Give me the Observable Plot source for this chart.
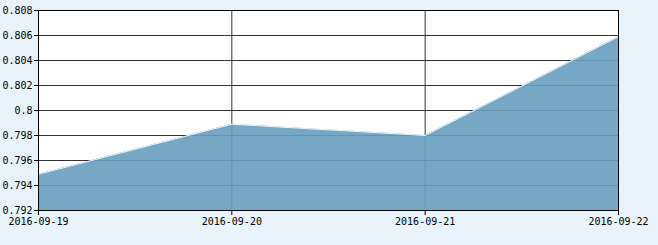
<!DOCTYPE html>
<html>
<head>
<meta charset="utf-8">
<script src="https://cdn.jsdelivr.net/npm/d3@7"></script>
<script src="https://cdn.jsdelivr.net/npm/@observablehq/plot@0.6"></script>
<style>
  html, body { margin: 0; padding: 0; background: #e8f3fb; }
  #chart svg { display: block; }
</style>
</head>
<body>
<div id="chart"></div>
<script>
const dates = ["2016-09-19", "2016-09-20", "2016-09-21", "2016-09-22"];
const values = [0.7949, 0.7989, 0.7980, 0.8059];
const yTicks = [0.792, 0.794, 0.796, 0.798, 0.800, 0.802, 0.804, 0.806, 0.808];

const parse = d3.utcParse("%Y-%m-%d");
const data = dates.map((d, i) => ({date: parse(d), value: values[i]}));
const xTicks = dates.map(parse);
const fmtDate = d3.utcFormat("%Y-%m-%d");

const chart = Plot.plot({
  width: 658,
  height: 245,
  marginLeft: 38,
  marginRight: 40,
  marginTop: 10,
  marginBottom: 35,
  style: {background: "#e8f3fb", fontFamily: "'DejaVu Sans Mono', monospace", fontSize: "10px", color: "#000"},
  x: {type: "utc", domain: [xTicks[0], xTicks[xTicks.length - 1]], label: null},
  y: {domain: [0.792, 0.808], label: null},
  marks: [
    Plot.frame({fill: "white", stroke: null}),
    Plot.ruleY(yTicks.slice(1, -1), {stroke: "#333", strokeWidth: 1}),
    Plot.ruleX(xTicks.slice(1, -1), {stroke: "#333", strokeWidth: 1}),
    Plot.areaY(data, {x: "date", y1: 0.792, y2: "value", fill: "rgb(103,159,191)", fillOpacity: 0.9}),
    Plot.lineY(data, {x: "date", y: "value", stroke: "#eef5f9", strokeWidth: 1}),
    Plot.frame({stroke: "black", strokeWidth: 1}),
    Plot.axisY(yTicks, {label: null, tickSize: 4, tickPadding: 2, tickFormat: d => String(+d.toFixed(3)), stroke: "black", fill: "black", fontSize: 10}),
    Plot.axisX(xTicks, {label: null, tickSize: 5, tickPadding: 2, tickFormat: fmtDate, stroke: "black", fill: "black", fontSize: 10})
  ]
});
document.getElementById("chart").appendChild(chart);
</script>
</body>
</html>
